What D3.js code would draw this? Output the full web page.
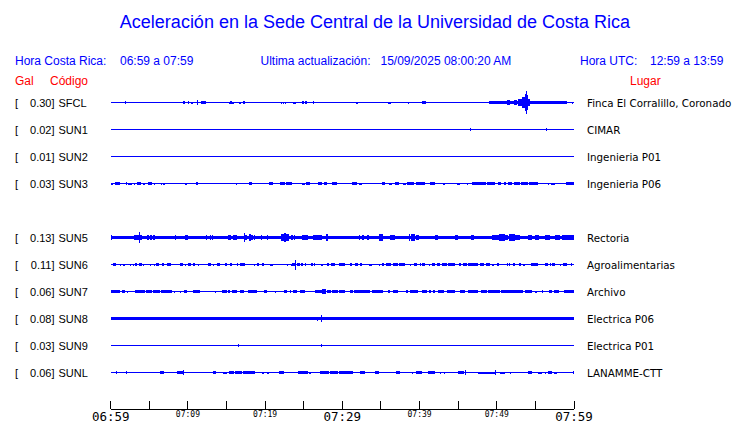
<!DOCTYPE html>
<html>
<head>
<meta charset="utf-8">
<script src="https://cdn.jsdelivr.net/npm/d3@7"></script>
<style>
  body { margin: 0; background: #fff; }
  svg { display: block; }
</style>
</head>
<body>
<div id="chart"></div>
<script>
// rows (SUN4 slot is kept empty, as in the original plot)
const slots = ["SFCL", "SUN1", "SUN2", "SUN3", "SUN4", "SUN5", "SUN6", "SUN7", "SUN8", "SUN9", "SUNL"];
const codes = ["SFCL", "SUN1", "SUN2", "SUN3", "SUN5", "SUN6", "SUN7", "SUN8", "SUN9", "SUNL"];
const peakGal = [0.30, 0.02, 0.01, 0.03, 0.13, 0.11, 0.06, 0.08, 0.03, 0.06];
const places = ["Finca El Corralillo, Coronado", "CIMAR", "Ingenieria P01", "Ingenieria P06",
  "Rectoria", "Agroalimentarias", "Archivo", "Electrica P06", "Electrica P01", "LANAMME-CTT"];
// background noise level of each trace (gal)
const baseGal = [0, 0, 0, 0, 0.04, 0, 0, 0.034, 0, 0];

// bursts: [start min, end min, amplitude gal], minutes after 06:59
const sfcl = [[1.9,2.0,0.04],[7.35,7.45,0.016],[7.85,7.95,0.016],[8.5,8.6,0.012],[9.4,9.65,0.032],
  [9.95,10.15,0.032],[10.4,10.6,0.024],[11.2,11.3,0.055],[11.7,12.3,0.032],[13.35,13.45,0.016],
  [14.1,14.2,0.02],[14.7,14.8,0.02],[15.3,15.95,0.024],[15.4,15.7,0.032],[16.65,16.85,0.024],
  [17.1,17.4,0.032],[17.8,17.9,0.016],[20.4,20.5,0.012],[20.75,20.85,0.012],[21.05,21.15,0.012],
  [21.45,21.55,0.012],[22.1,22.2,0.024],[22.35,22.45,0.024],[22.6,22.7,0.024],[23.65,23.95,0.024],
  [24.2,24.3,0.012],[24.75,25.0,0.028],[25.15,25.45,0.028],[26.2,26.3,0.045],[26.3,26.55,0.02],
  [31.0,31.1,0.012],[31.75,32.0,0.024],[32.85,32.95,0.012],[35.5,35.6,0.016],[35.9,36.3,0.024],
  [37.55,37.65,0.02],[38.55,38.65,0.024],[39.05,39.15,0.02],[40.3,40.8,0.032],[41.1,41.2,0.012],
  [41.9,42.0,0.012],[46.45,46.55,0.016],[47.8,47.9,0.012],[48.45,48.55,0.016],[49.0,59.1,0.03],
  [49.6,49.8,0.036],[50.3,50.5,0.036],[50.8,51.0,0.042],[51.3,51.75,0.05],[52.2,52.6,0.063],
  [52.8,53.25,0.095],[53.25,53.6,0.125],[53.6,53.75,0.2],[53.75,53.85,0.28],[53.85,53.95,0.17],
  [53.95,54.35,0.095],[54.35,55.0,0.04],[58.75,58.85,0.036],[59.7,59.8,0.024]];
const sun1 = [[46.55,46.65,0.032],[56.35,56.45,0.032]];
const sun2 = [];
const sun3 = [[0.1,0.3,0.024],[0.6,1.2,0.03],[1.95,2.1,0.03],[2.3,2.7,0.024],[3.05,3.2,0.024],
  [3.4,3.9,0.03],[4.2,4.4,0.024],[4.8,5.3,0.03],[5.6,5.7,0.024],[6.5,6.6,0.024],[6.75,6.85,0.024],
  [6.95,7.05,0.024],[8.3,8.4,0.016],[9.25,9.35,0.02],[9.6,9.9,0.024],[11.1,11.35,0.028],
  [12.7,12.8,0.016],[13.6,13.7,0.016],[14.35,14.45,0.016],[15.4,15.5,0.016],[16.25,16.35,0.024],
  [16.6,16.75,0.02],[17.9,18.3,0.028],[18.5,18.6,0.02],[19.15,19.25,0.016],[19.85,19.95,0.016],
  [20.55,21.0,0.028],[21.2,21.3,0.016],[21.9,22.6,0.028],[22.75,23.5,0.03],[23.6,23.9,0.02],
  [24.5,24.6,0.02],[24.8,25.1,0.024],[25.3,25.8,0.03],[25.9,26.05,0.02],[26.9,27.4,0.028],
  [27.6,28.0,0.028],[28.6,29.3,0.028],[29.95,30.05,0.016],[31.2,31.9,0.028],[32.1,32.5,0.024],
  [32.9,33.0,0.02],[33.3,33.4,0.02],[33.7,33.8,0.02],[34.1,34.2,0.02],[35.1,35.5,0.028],
  [36.05,36.4,0.024],[36.8,37.3,0.028],[37.8,38.3,0.024],[38.4,39.3,0.03],[39.5,40.0,0.028],
  [40.1,40.7,0.03],[41.4,42.0,0.028],[42.7,42.8,0.02],[43.0,43.3,0.024],[44.15,44.25,0.02],
  [44.8,45.2,0.024],[46.1,46.3,0.024],[46.8,48.6,0.03],[48.7,49.8,0.028],[50.2,50.6,0.028],
  [50.9,51.2,0.028],[51.4,52.0,0.03],[52.2,53.0,0.028],[53.2,54.0,0.03],[54.2,55.4,0.028],
  [56.1,56.3,0.02],[56.6,56.8,0.024],[57.0,57.6,0.024],[58.15,58.25,0.016],[59.0,60.0,0.028]];
const sun5 = [[0.0,0.15,0.055],[3.0,3.3,0.055],[3.3,3.7,0.063],[3.7,3.85,0.135],[3.85,4.1,0.07],
  [4.7,4.9,0.06],[5.1,5.3,0.07],[5.5,5.7,0.055],[8.3,8.4,0.055],[9.6,10.05,0.05],[12.4,12.5,0.05],
  [12.8,12.9,0.05],[13.1,13.3,0.05],[15.2,15.6,0.05],[15.8,16.3,0.05],[17.2,17.35,0.1],
  [17.4,17.7,0.06],[17.9,18.2,0.09],[18.2,18.4,0.06],[18.5,18.7,0.05],[19.5,19.6,0.05],
  [20.3,20.4,0.05],[22.1,22.5,0.08],[22.5,22.75,0.1],[22.75,23.1,0.08],[23.3,23.6,0.06],
  [23.7,23.9,0.05],[24.8,25.6,0.05],[26.2,27.3,0.05],[27.9,28.2,0.095],[32.1,32.3,0.05],
  [32.6,32.8,0.05],[33.2,33.5,0.05],[34.7,35.3,0.08],[36.2,36.8,0.05],[38.6,38.8,0.095],
  [38.9,39.4,0.08],[39.5,39.9,0.06],[42.0,42.4,0.05],[43.3,43.7,0.045],[44.6,45.0,0.065],
  [46.6,47.0,0.05],[49.4,50.3,0.06],[50.3,51.0,0.08],[51.0,51.4,0.065],[51.6,51.9,0.095],
  [51.9,52.3,0.08],[52.4,53.0,0.055],[54.1,54.5,0.05],[55.0,55.5,0.05],[56.3,56.9,0.065],
  [57.5,58.2,0.05],[58.4,60.0,0.05]];
const sun6 = [[0.35,0.75,0.028],[1.2,1.3,0.024],[1.6,1.85,0.024],[2.5,2.6,0.024],[2.9,3.0,0.024],
  [3.2,3.4,0.028],[3.7,4.0,0.028],[4.2,4.3,0.024],[5.1,5.2,0.024],[5.6,5.7,0.024],[5.9,6.3,0.028],
  [6.6,6.9,0.028],[7.3,7.8,0.028],[9.0,9.4,0.028],[9.6,9.7,0.024],[10.0,10.4,0.028],[10.6,10.9,0.028],
  [11.3,11.4,0.024],[12.6,13.0,0.028],[13.3,13.4,0.024],[13.8,14.2,0.028],[14.8,15.1,0.028],
  [15.4,15.7,0.028],[16.3,16.5,0.028],[16.8,17.4,0.028],[18.5,18.6,0.024],[19.0,19.2,0.028],
  [19.6,19.9,0.028],[20.6,21.0,0.024],[22.8,23.0,0.024],[23.3,23.4,0.024],[23.5,23.9,0.028],
  [23.9,24.05,0.12],[24.1,24.5,0.034],[24.7,24.9,0.028],[25.1,25.3,0.028],[26.0,26.2,0.045],
  [26.3,26.5,0.028],[27.2,27.5,0.024],[28.0,28.3,0.028],[28.5,29.0,0.028],[29.6,30.3,0.028],
  [31.0,31.3,0.028],[31.6,32.0,0.028],[32.3,32.6,0.028],[33.4,33.8,0.024],[34.7,34.9,0.024],
  [35.1,35.4,0.028],[35.7,36.3,0.028],[36.6,37.2,0.028],[37.3,38.1,0.028],[38.8,38.9,0.024],
  [39.3,39.6,0.036],[39.6,39.7,0.042],[40.0,40.1,0.028],[40.3,40.7,0.028],[41.2,41.4,0.024],
  [41.6,42.0,0.028],[42.3,42.6,0.028],[42.9,43.6,0.032],[43.7,44.6,0.032],[45.1,45.4,0.028],
  [45.6,46.2,0.028],[46.3,46.6,0.028],[46.6,46.7,0.036],[46.8,47.6,0.028],[47.8,48.3,0.028],
  [48.6,49.1,0.028],[49.4,49.6,0.024],[50.0,50.3,0.028],[51.3,51.5,0.028],[51.6,51.7,0.042],
  [52.1,52.4,0.028],[52.9,53.2,0.028],[53.4,53.6,0.024],[54.4,55.4,0.028],[56.3,56.6,0.032],
  [56.9,57.0,0.042],[57.1,57.5,0.028],[58.2,58.3,0.024],[58.6,59.1,0.028],[59.6,59.8,0.028]];
const sun7 = [[0.0,1.2,0.032],[1.4,1.85,0.028],[2.1,2.3,0.024],[3.1,4.4,0.032],[4.6,5.4,0.032],
  [5.5,6.4,0.032],[6.5,7.9,0.032],[8.2,8.3,0.024],[9.0,9.1,0.024],[9.5,9.9,0.028],[10.7,11.6,0.028],
  [13.5,13.6,0.024],[14.4,15.0,0.036],[15.2,15.4,0.028],[15.7,16.4,0.028],[16.7,17.2,0.028],
  [17.8,18.0,0.036],[18.1,18.9,0.032],[19.8,20.2,0.028],[21.3,21.4,0.024],[22.4,22.8,0.028],
  [23.2,23.4,0.028],[23.6,24.1,0.028],[24.5,25.2,0.032],[26.5,27.3,0.032],[27.3,27.9,0.055],
  [28.0,28.5,0.032],[28.7,29.4,0.032],[29.6,30.4,0.032],[31.0,31.4,0.032],[31.5,31.6,0.042],
  [31.7,33.6,0.032],[33.8,35.3,0.032],[35.9,36.2,0.032],[36.6,37.2,0.028],[38.3,38.5,0.036],
  [38.7,39.8,0.032],[40.3,41.0,0.028],[41.2,41.5,0.028],[41.7,42.0,0.032],[42.4,43.2,0.032],
  [43.5,44.6,0.032],[45.3,45.9,0.032],[46.3,47.6,0.032],[47.9,48.7,0.032],[48.9,50.4,0.032],
  [50.6,53.4,0.032],[53.6,54.5,0.032],[55.0,55.2,0.024],[55.8,55.9,0.028],[56.8,57.2,0.028],
  [57.4,58.0,0.032],[58.7,60.0,0.032]];
const sun8 = [[1.9,2.0,0.045],[9.35,9.45,0.045],[11.55,11.65,0.045],[15.95,16.05,0.045],
  [20.05,20.15,0.045],[20.8,20.9,0.045],[23.85,23.95,0.045],[26.7,26.8,0.048],[27.25,27.4,0.08],
  [33.55,33.65,0.045],[37.05,37.15,0.045],[39.15,39.25,0.045],[42.05,42.15,0.045],
  [48.45,48.55,0.045]];
const sun9 = [[16.45,16.55,0.032],[23.25,23.35,0.016],[27.2,27.4,0.032]];
const sunl = [[0.75,0.85,0.04],[1.3,1.4,0.02],[1.95,2.05,0.04],[4.6,4.7,0.02],[5.75,5.95,0.02],
  [6.4,6.85,0.028],[7.45,7.55,0.02],[8.55,9.3,0.028],[9.3,9.4,0.063],[13.3,13.6,0.03],
  [14.6,15.0,0.024],[15.3,16.0,0.028],[16.1,17.0,0.03],[17.1,17.6,0.028],[17.7,18.7,0.028],
  [19.6,19.8,0.024],[20.3,20.5,0.024],[21.3,21.5,0.02],[21.8,22.5,0.028],[22.7,22.8,0.02],
  [23.4,23.5,0.02],[24.3,25.6,0.028],[25.7,26.0,0.024],[27.1,27.8,0.028],[27.8,28.3,0.032],
  [28.4,29.5,0.028],[29.6,31.4,0.028],[32.3,32.9,0.028],[34.2,34.7,0.028],[36.3,36.4,0.02],
  [36.9,37.5,0.028],[38.1,38.2,0.02],[39.0,39.2,0.024],[39.5,40.3,0.028],[41.1,42.0,0.028],
  [42.6,42.7,0.024],[43.1,43.2,0.024],[43.7,43.8,0.02],[45.0,45.8,0.04],[45.9,46.0,0.063],
  [47.6,49.8,0.024],[49.8,49.9,0.055],[50.4,51.1,0.024],[51.7,51.8,0.024],[52.6,52.7,0.02],
  [54.0,54.6,0.028],[55.4,55.8,0.024],[56.2,56.4,0.024],[56.6,57.2,0.028],[57.4,57.8,0.024],
  [59.9,60.0,0.04]];
const bursts = [sfcl, sun1, sun2, sun3, sun5, sun6, sun7, sun8, sun9, sunl];

const startTime = new Date(2025, 8, 15, 6, 59);
const tickMinutes = d3.range(0, 61, 5);
const bigLabels = ["06:59", "07:29", "07:59"];

const width = 740, height = 423;
const blue = "#0000ff", red = "#ff0000";

const svg = d3.select("#chart").append("svg")
    .attr("width", width)
    .attr("height", height)
    .style("font-family", "'Liberation Sans', Arial, sans-serif");

const at = m => new Date(+startTime + m * 60000);

const x = d3.scaleTime()
    .domain([startTime, at(60)])
    .range([110.7, 574]);

const y = d3.scalePoint()
    .domain(slots)
    .range([102.5, 372.5]);

// amplitude (gal) -> half height in pixels
const amp = d3.scaleLinear()
    .domain([0, 0.30])
    .range([0, 12.5]);

// title + header
svg.append("text")
    .attr("x", 375).attr("y", 28)
    .attr("text-anchor", "middle")
    .attr("fill", blue)
    .style("font-size", "18px")
    .text("Aceleración en la Sede Central de la Universidad de Costa Rica");

const header = [
  ["Hora Costa Rica:", 15], ["06:59 a 07:59", 120],
  ["Ultima actualización:", 260.5], ["15/09/2025 08:00:20 AM", 380.5],
  ["Hora UTC:", 580], ["12:59 a 13:59", 650]
];
svg.selectAll("text.head")
    .data(header)
    .join("text")
    .attr("class", "head")
    .attr("x", d => d[1]).attr("y", 65)
    .attr("fill", blue)
    .style("font-size", "12px")
    .text(d => d[0]);

svg.selectAll("text.colhead")
    .data([["Gal", 15], ["Código", 50], ["Lugar", 630]])
    .join("text")
    .attr("class", "colhead")
    .attr("x", d => d[1]).attr("y", 84.5)
    .attr("fill", red)
    .style("font-size", "12px")
    .text(d => d[0]);

// rows
const rows = svg.selectAll("g.row")
    .data(codes.map((c, i) => ({ code: c, gal: peakGal[i], place: places[i], base: baseGal[i], bursts: bursts[i] })))
    .join("g")
    .attr("class", "row")
    .attr("transform", d => `translate(0,${y(d.code)})`);

rows.append("text")
    .attr("x", 15).attr("y", 4)
    .style("font-size", "11px")
    .text("[");
rows.append("text")
    .attr("x", 54.5).attr("y", 4)
    .attr("text-anchor", "end")
    .style("font-size", "11px")
    .text(d => d3.format(".2f")(d.gal) + "]");
rows.append("text")
    .attr("x", 58.5).attr("y", 4)
    .style("font-size", "11px")
    .text(d => d.code);

rows.append("text")
    .attr("x", 587).attr("y", 4)
    .style("font-family", "'DejaVu Sans', sans-serif")
    .style("font-size", "10.3px")
    .text(d => d.place);

// trace baseline
rows.append("rect")
    .attr("x", x(at(0)))
    .attr("width", x(at(60)) - x(at(0)))
    .attr("y", d => -Math.max(0.5, amp(d.base)))
    .attr("height", d => 2 * Math.max(0.5, amp(d.base)))
    .attr("fill", blue)
    .attr("shape-rendering", "crispEdges");

// bursts
rows.selectAll("rect.burst")
    .data(d => d.bursts)
    .join("rect")
    .attr("class", "burst")
    .attr("x", d => x(at(d[0])))
    .attr("width", d => Math.max(1, x(at(d[1])) - x(at(d[0]))))
    .attr("y", d => -amp(d[2]))
    .attr("height", d => 2 * amp(d[2]))
    .attr("fill", blue)
    .attr("shape-rendering", "crispEdges");

// time axis
const axisY = 409;
const axis = svg.append("g");
axis.append("line")
    .attr("x1", x(at(0))).attr("x2", x(at(60)))
    .attr("y1", axisY).attr("y2", axisY)
    .attr("stroke", "#000")
    .attr("shape-rendering", "crispEdges");
axis.selectAll("line.tick")
    .data(tickMinutes)
    .join("line")
    .attr("class", "tick")
    .attr("x1", m => x(at(m))).attr("x2", m => x(at(m)))
    .attr("y1", axisY - 8).attr("y2", axisY)
    .attr("stroke", "#000")
    .attr("shape-rendering", "crispEdges");

const fmt = d3.timeFormat("%H:%M");
axis.selectAll("text.tl")
    .data(tickMinutes.filter(m => m % 10 === 0))
    .join("text")
    .attr("class", "tl")
    .attr("x", m => x(at(m)))
    .attr("y", m => bigLabels.includes(fmt(at(m))) ? 420.5 : 417)
    .attr("text-anchor", "middle")
    .style("font-family", "'DejaVu Sans Mono', monospace")
    .style("font-weight", 300)
    .style("font-size", m => bigLabels.includes(fmt(at(m))) ? "12.5px" : "8px")
    .text(m => fmt(at(m)));
</script>
</body>
</html>
